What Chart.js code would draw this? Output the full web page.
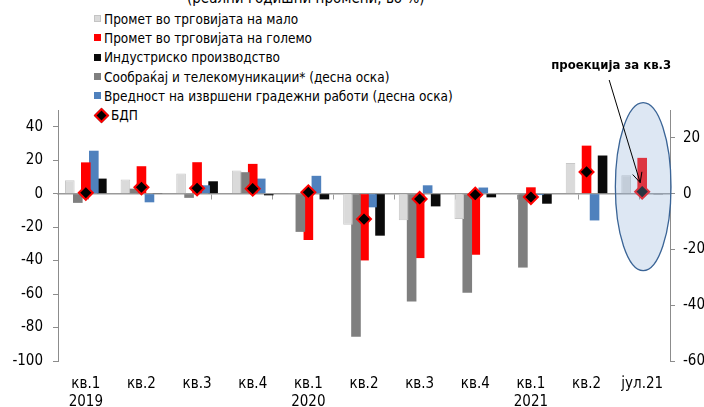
<!DOCTYPE html>
<html>
<head>
<meta charset="utf-8">
<script src="https://cdn.jsdelivr.net/npm/chart.js@4.4.0/dist/chart.umd.min.js"></script>
<style>
  body { margin: 0; background: #fff; }
  #wrap { position: relative; width: 704px; height: 407px; overflow: hidden;
          font-family: "DejaVu Sans Condensed", "DejaVu Sans", sans-serif; color: #000; }
  #chart { position: absolute; left: 0; top: 0; }
  #title { position: absolute; left: 187px; top: -11px; font-size: 15px; white-space: nowrap; }
  #legend { position: absolute; left: 94px; top: 9px; font-size: 13.5px; }
  .item { height: 19.3px; display: flex; align-items: center; white-space: nowrap; }
  .mark { width: 7px; height: 7px; margin-right: 3px; box-sizing: border-box; }
  .diamond { width: 7px; height: 7px; margin: 0 4px 0 2px; background: #000;
             border: 2px solid #ff0000; transform: rotate(45deg); }
</style>
</head>
<body>
<div id="wrap">
  <div id="title">(реални годишни промени, во %)</div>
  <div id="legend"></div>
  <canvas id="chart" width="704" height="407"></canvas>
</div>
<script>
const categories = [['кв.1', '2019'], 'кв.2', 'кв.3', 'кв.4', ['кв.1', '2020'], 'кв.2', 'кв.3', 'кв.4', ['кв.1', '2021'], 'кв.2', 'јул.21'];

// left axis
const retailTrade = [8, 8.4, 12, 13.8, 0.4, -18.6, -15.9, -15.2, -0.6, 18.4, 11];
const wholesaleTrade = [18.7, 16.4, 18.8, 17.8, -27.7, -39.9, -38.5, -36.5, 3.8, 28.7, 21.4];
const industrialOutput = [9, 0.4, 7.4, -1, -3.4, -25.1, -7.6, -2.2, -6, 22.8, -0.4];
const gdpGrowth = [0.5, 3.8, 3.2, 3.0, 0.8, -15.2, -3.2, -0.6, -2, 13, 1.2];

// right axis
const transportTelecom = [-3.3, 1.8, -1.5, 7.7, -13.7, -51.3, -38.7, -35.5, -26.5, null, null];
const constructionWorks = [15.4, -3.1, 3.0, 5.4, 6.4, -4.9, 3.0, 2.2, -0.5, -9.6, null];

const leftTicks = [-100, -80, -60, -40, -20, 0, 20, 40];
const rightTicks = [-60, -40, -20, 0, 20];

const names = {
    retail: 'Промет во трговијата на мало',
    wholesale: 'Промет во трговијата на големо',
    industry: 'Индустриско производство',
    transport: 'Сообраќај и телекомуникации* (десна оска)',
    construction: 'Вредност на извршени градежни работи (десна оска)',
    gdp: 'БДП'
};
const colors = {
    retail: '#dadada',
    wholesale: '#ff0000',
    industry: '#0a0a0a',
    transport: '#7f7f7f',
    construction: '#4f81bd'
};
const projectionNote = 'проекција за кв.3';

const FONT = '"DejaVu Sans Condensed", "DejaVu Sans", sans-serif';
Chart.defaults.font.family = FONT;
Chart.defaults.color = '#000';

// legend, same order as the original
const legendEl = document.getElementById('legend');
['retail', 'wholesale', 'industry', 'transport', 'construction', 'gdp'].forEach(key => {
    const row = document.createElement('div');
    row.className = 'item';
    const mark = document.createElement('span');
    if (key === 'gdp') {
        mark.className = 'diamond';
    } else {
        mark.className = 'mark';
        mark.style.background = colors[key];
        mark.style.border = '1px solid ' + (key === 'retail' ? '#c4c4c4' : colors[key]);
    }
    row.appendChild(mark);
    row.appendChild(document.createTextNode(names[key]));
    legendEl.appendChild(row);
});

function barSet(key, data, axis) {
    return {
        type: 'bar',
        label: names[key],
        data: data,
        yAxisID: axis,
        backgroundColor: colors[key],
        borderColor: key === 'retail' ? '#c8c8c8' : colors[key],
        borderWidth: key === 'retail' ? 1 : 0,
        categoryPercentage: 0.72,
        barPercentage: 1.2,
        order: 2
    };
}

const projectionPlugin = {
    id: 'projection',
    afterDatasetsDraw(chart) {
        const { ctx, scales } = chart;
        const x = scales.x, y = scales.y;
        const last = categories.length - 1;
        const cx = x.getPixelForValue(last);
        const step = x.getPixelForValue(1) - x.getPixelForValue(0);
        const cy = y.getPixelForValue(4.2);
        const ry = y.getPixelForValue(-46) - cy;
        ctx.save();
        ctx.beginPath();
        ctx.ellipse(cx + 1, cy, step * 0.5, ry, 0, 0, Math.PI * 2);
        ctx.fillStyle = 'rgba(142, 175, 215, 0.3)';
        ctx.fill();
        ctx.lineWidth = 1.3;
        ctx.strokeStyle = '#3a6496';
        ctx.stroke();

        // arrow to the projected GDP point
        const px = cx, py = y.getPixelForValue(gdpGrowth[last]);
        const sx = px - 33, sy = 80;
        const ex = px - 2, ey = py - 9;
        ctx.beginPath();
        ctx.moveTo(sx, sy);
        ctx.lineTo(ex, ey);
        const ang = Math.atan2(ey - sy, ex - sx);
        ctx.moveTo(ex - 11 * Math.cos(ang - 0.45), ey - 11 * Math.sin(ang - 0.45));
        ctx.lineTo(ex, ey);
        ctx.lineTo(ex - 11 * Math.cos(ang + 0.45), ey - 11 * Math.sin(ang + 0.45));
        ctx.strokeStyle = '#000';
        ctx.lineWidth = 1;
        ctx.stroke();

        ctx.font = 'bold 13px ' + FONT;
        ctx.fillStyle = '#000';
        ctx.textAlign = 'center';
        ctx.textBaseline = 'middle';
        ctx.fillText(projectionNote, sx + 2, 66);
        ctx.restore();
    }
};

new Chart(document.getElementById('chart'), {
    data: {
        labels: categories,
        datasets: [
            barSet('retail', retailTrade, 'y'),
            barSet('transport', transportTelecom, 'y1'),
            barSet('wholesale', wholesaleTrade, 'y'),
            barSet('construction', constructionWorks, 'y1'),
            barSet('industry', industrialOutput, 'y'),
            {
                type: 'line',
                label: names.gdp,
                data: gdpGrowth,
                yAxisID: 'y',
                showLine: false,
                pointStyle: 'rectRot',
                pointRadius: 7,
                pointBorderWidth: 2,
                pointBackgroundColor: '#000',
                pointBorderColor: '#ff0000',
                order: 1
            }
        ]
    },
    options: {
        responsive: false,
        animation: false,
        layout: { padding: { top: 110, left: 0, right: 0, bottom: 0 } },
        plugins: {
            legend: { display: false },
            tooltip: { enabled: false }
        },
        scales: {
            x: {
                position: 'bottom',
                grid: { display: false, drawTicks: false },
                border: { display: false },
                ticks: { font: { size: 15, lineHeight: 1.2 }, padding: 14, maxRotation: 0, autoSkip: false },
                afterFit: (s) => { s.height = 46; }
            },
            xZero: {
                type: 'category',
                labels: categories,
                position: { y: 0 },
                grid: { offset: true, drawOnChartArea: false, tickLength: 5, color: '#9a9a9a' },
                border: { color: '#9a9a9a', width: 1.5 },
                ticks: { display: false }
            },
            y: {
                position: 'left',
                min: -100,
                max: 50,
                grid: { drawOnChartArea: false, tickLength: 5, color: '#8c8c8c' },
                border: { color: '#8c8c8c' },
                ticks: { font: { size: 15 }, padding: 10 },
                afterBuildTicks: (s) => { s.ticks = leftTicks.map(v => ({ value: v })); },
                afterFit: (s) => { s.width = 58; }
            },
            y1: {
                position: 'right',
                min: -60,
                max: 30,
                grid: { drawOnChartArea: false, tickLength: 5, color: '#8c8c8c' },
                border: { color: '#8c8c8c' },
                ticks: { font: { size: 15 }, padding: 8 },
                afterBuildTicks: (s) => { s.ticks = rightTicks.map(v => ({ value: v })); },
                afterFit: (s) => { s.width = 34; }
            }
        }
    },
    plugins: [projectionPlugin]
});
</script>
</body>
</html>
